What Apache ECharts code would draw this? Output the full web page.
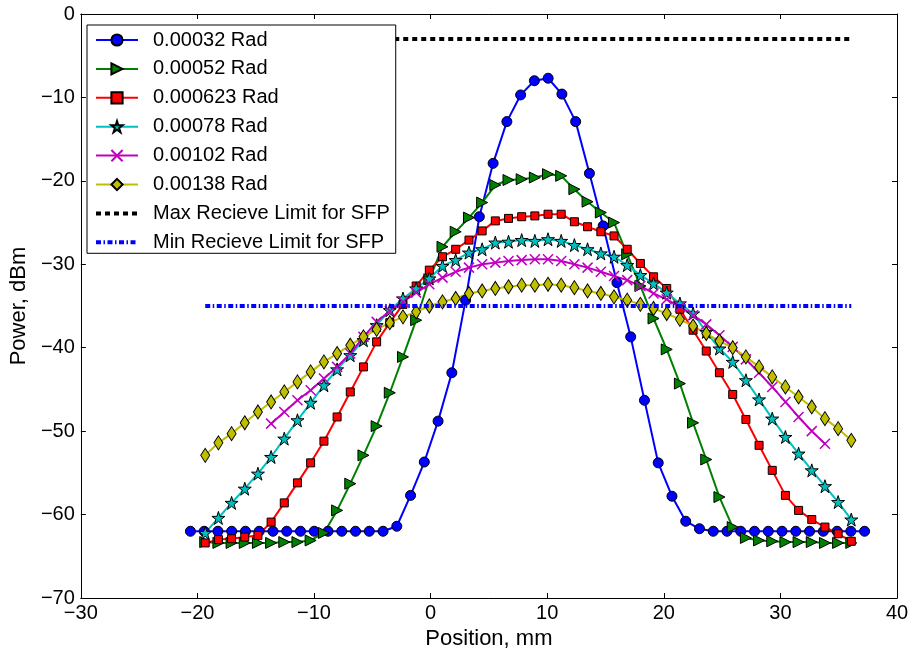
<!DOCTYPE html>
<html>
<head>
<meta charset="utf-8">
<script src="https://cdn.jsdelivr.net/npm/echarts@6/dist/echarts.min.js"></script>
<style>
html,body{margin:0;padding:0;background:#fff;}
#chart{width:914px;height:656px;}
</style>
</head>
<body>
<div id="chart"></div>
<script>
// ---- data ----
const seriesNames = ['0.00032 Rad','0.00052 Rad','0.000623 Rad','0.00078 Rad','0.00102 Rad','0.00138 Rad',
  'Max Recieve Limit for SFP','Min Recieve Limit for SFP'];

const posBlue = [-20.60,-19.42,-18.24,-17.06,-15.88,-14.70,-13.52,-12.34,-11.16,-9.98,
  -8.80,-7.62,-6.44,-5.26,-4.08,-2.90,-1.72,-0.54,0.64,1.82,
  3.00,4.18,5.36,6.54,7.72,8.90,10.08,11.26,12.44,13.62,
  14.80,15.98,17.16,18.34,19.52,20.70,21.88,23.06,24.24,25.42,
  26.60,27.78,28.96,30.14,31.32,32.50,33.68,34.86,36.04,37.22];
const powBlue = [-62.0,-62.0,-62.0,-62.0,-62.0,-62.0,-62.0,-62.0,-62.0,-62.0,
  -62.0,-62.0,-62.0,-62.0,-62.0,-61.4,-57.7,-53.7,-48.8,-43.0,
  -34.3,-24.3,-17.9,-12.9,-9.7,-8.0,-7.7,-9.6,-12.9,-19.1,
  -25.4,-32.2,-38.7,-46.3,-53.8,-57.8,-60.8,-61.7,-62.0,-62.0,
  -62.0,-62.0,-62.0,-62.0,-62.0,-62.0,-62.0,-62.0,-62.0,-62.0];

const posScan = [-19.33,-18.20,-17.07,-15.94,-14.81,-13.68,-12.55,-11.42,-10.29,-9.15,
  -8.02,-6.89,-5.76,-4.63,-3.50,-2.37,-1.24,-0.11,1.02,2.15,
  3.29,4.42,5.55,6.68,7.81,8.94,10.07,11.20,12.33,13.46,
  14.60,15.73,16.86,17.99,19.12,20.25,21.38,22.51,23.64,24.77,
  25.91,27.04,28.17,29.30,30.43,31.56,32.69,33.82,34.95,36.08];
const powGreen = [-63.3,-63.4,-63.4,-63.4,-63.4,-63.4,-63.3,-63.3,-63.1,-62.2,
  -59.5,-56.3,-52.9,-49.4,-45.4,-41.1,-36.7,-31.8,-27.9,-26.1,
  -24.4,-22.6,-20.5,-19.9,-19.8,-19.6,-19.2,-19.4,-21.0,-22.5,
  -23.8,-25.0,-28.8,-32.6,-36.5,-40.2,-44.3,-49.0,-53.4,-57.9,
  -61.5,-62.8,-63.1,-63.2,-63.3,-63.3,-63.3,-63.4,-63.4,-63.4];
const powRed = [-63.4,-63.0,-62.9,-62.7,-62.5,-60.9,-58.6,-56.2,-53.8,-51.2,
  -48.3,-45.3,-42.3,-39.3,-37.0,-34.8,-32.6,-30.7,-29.1,-28.2,
  -27.1,-26.0,-24.8,-24.5,-24.3,-24.2,-24.0,-24.0,-24.9,-25.5,
  -26.1,-26.6,-28.2,-29.9,-31.5,-32.9,-35.4,-37.9,-40.4,-43.0,
  -45.6,-48.6,-51.7,-54.7,-57.7,-59.5,-60.6,-61.5,-62.3,-63.2];
const powCyan = [-62.2,-60.4,-58.6,-56.9,-55.1,-53.1,-50.9,-48.7,-46.6,-44.5,
  -42.6,-40.9,-39.1,-37.3,-35.5,-34.1,-32.9,-31.7,-30.2,-29.5,
  -28.6,-28.2,-27.4,-27.3,-27.1,-27.2,-27.0,-27.2,-27.7,-28.2,
  -28.7,-29.1,-30.1,-31.3,-32.3,-33.4,-34.7,-35.9,-38.1,-40.1,
  -41.7,-43.9,-46.2,-48.5,-50.7,-52.7,-54.7,-56.6,-58.5,-60.6];
const posMagenta = [-13.68,-12.55,-11.42,-10.29,-9.15,
  -8.02,-6.89,-5.76,-4.63,-3.50,-2.37,-1.24,-0.11,1.02,2.15,
  3.29,4.42,5.55,6.68,7.81,8.94,10.07,11.20,12.33,13.46,
  14.60,15.73,16.86,17.99,19.12,20.25,21.38,22.51,23.64,24.77,
  25.91,27.04,28.17,29.30,30.43,31.56,32.69,33.82];
const powMagenta = [-49.1,-47.7,-46.3,-45.1,-43.7,
  -42.3,-40.7,-38.7,-36.9,-35.6,-34.5,-33.4,-32.4,-31.6,-30.9,
  -30.4,-30.0,-29.8,-29.6,-29.5,-29.4,-29.4,-29.6,-30.0,-30.4,
  -30.9,-31.4,-31.9,-32.6,-33.5,-34.2,-35.1,-36.1,-37.2,-38.5,
  -39.9,-41.4,-43.0,-44.7,-46.5,-48.3,-50.0,-51.5];
const powYellow = [-52.9,-51.4,-50.3,-49.0,-47.7,-46.5,-45.3,-44.1,-42.9,-41.7,
  -40.7,-39.7,-38.7,-37.8,-37.0,-36.3,-35.7,-35.0,-34.5,-34.1,
  -33.5,-33.2,-32.9,-32.7,-32.5,-32.5,-32.4,-32.5,-32.8,-33.2,
  -33.5,-33.9,-34.3,-34.8,-35.3,-35.9,-36.6,-37.4,-38.3,-39.2,
  -40.0,-41.1,-42.3,-43.5,-44.7,-45.9,-47.1,-48.5,-49.7,-51.1];

const limitPos = [-19.33, 36.08];
const maxLimit = [-3, -3];
const minLimit = [-35, -35];

const xTicks = {min: -30, max: 40, step: 10};
const yTicks = {min: -70, max: 0, step: 10};

// ---- chart ----
const pair = (xs, ys) => xs.map((x, i) => [x, ys[i]]);
const STAR = 'path://M50,0L61.2,34.5L97.6,34.5L68.2,55.9L79.4,90.5L50,69.1L20.6,90.5L31.8,55.9L2.4,34.5L38.8,34.5Z';
const CROSS = 'path://M0,0L10,10M10,0L0,10';
const FONT = '"Liberation Sans", Arial, sans-serif';
const fmt = v => String(v).replace('-', '\u2212');
const MAX_DASH = [5, 4];
const MIN_DASH = [5, 2.5, 1.5, 2.5];

function mkSeries(name, data, color, symbol, size, extra) {
  return Object.assign({
    name, type: 'line', data, symbol, symbolSize: size,
    showSymbol: true,
    lineStyle: {color, width: 2},
    itemStyle: {color, borderColor: '#000', borderWidth: 1},
    emphasis: {disabled: true},
    animation: false, z: 2
  }, extra || {});
}

const axisCommon = {
  type: 'value',
  axisLine: {show: true, onZero: false, lineStyle: {color: '#000', width: 1}},
  axisTick: {show: true, inside: true, length: 5, lineStyle: {color: '#000'}},
  splitLine: {show: false}
};

const option = {
  backgroundColor: '#fff',
  animation: false,
  grid: {left: 79, right: 17, top: 14, bottom: 58, containLabel: false},
  xAxis: [
    Object.assign({}, axisCommon, {
      min: xTicks.min, max: xTicks.max, interval: xTicks.step, position: 'bottom',
      name: 'Position, mm', nameLocation: 'middle', nameGap: 28,
      nameTextStyle: {fontFamily: FONT, fontSize: 22, color: '#000'},
      axisLabel: {fontFamily: FONT, fontSize: 20, color: '#000', margin: 5, formatter: fmt}
    }),
    Object.assign({}, axisCommon, {
      min: xTicks.min, max: xTicks.max, interval: xTicks.step, position: 'top',
      axisLabel: {show: false}
    })
  ],
  yAxis: [
    Object.assign({}, axisCommon, {
      min: yTicks.min, max: yTicks.max, interval: yTicks.step, position: 'left',
      name: 'Power, dBm', nameLocation: 'middle', nameGap: 45,
      nameTextStyle: {fontFamily: FONT, fontSize: 22, color: '#000'},
      axisLabel: {fontFamily: FONT, fontSize: 20, color: '#000', margin: 6, formatter: fmt}
    }),
    Object.assign({}, axisCommon, {
      min: yTicks.min, max: yTicks.max, interval: yTicks.step, position: 'right',
      axisLabel: {show: false}
    })
  ],
  legend: {
    orient: 'vertical', left: 87, top: 25,
    padding: [5, 6, 1, 7],
    itemWidth: 42, itemHeight: 14, itemGap: 8.9,
    backgroundColor: '#fff', borderColor: '#000', borderWidth: 1, borderRadius: 0,
    textStyle: {fontFamily: FONT, fontSize: 20, color: '#000', lineHeight: 20, padding: [0, 0, 0, 10]},
    data: seriesNames.slice(0, 6).concat([
      {name: seriesNames[6], itemStyle: {opacity: 0}, lineStyle: {width: 4, type: MAX_DASH, color: '#000'}},
      {name: seriesNames[7], itemStyle: {opacity: 0}, lineStyle: {width: 4, type: MIN_DASH, color: '#0000ff'}}
    ]),
    z: 10
  },
  series: [
    mkSeries(seriesNames[0], pair(posBlue, powBlue), '#0000ff', 'circle', 10),
    mkSeries(seriesNames[1], pair(posScan, powGreen), '#008000', 'triangle', 11, {symbolRotate: -90}),
    mkSeries(seriesNames[2], pair(posScan, powRed), '#ff0000', 'rect', 8),
    mkSeries(seriesNames[3], pair(posScan, powCyan), '#00bfbf', STAR, 13),
    mkSeries(seriesNames[4], pair(posMagenta, powMagenta), '#bf00bf', CROSS, 10,
      {itemStyle: {color: '#bf00bf', borderColor: '#bf00bf', borderWidth: 1.5}}),
    mkSeries(seriesNames[5], pair(posScan, powYellow), '#bfbf00', 'diamond', [9, 14]),
    {
      name: seriesNames[6], type: 'line', data: pair(limitPos, maxLimit), symbol: 'circle', showSymbol: false,
      lineStyle: {color: '#000', width: 4, type: MAX_DASH}, itemStyle: {color: '#000', opacity: 0},
      emphasis: {disabled: true}, animation: false
    },
    {
      name: seriesNames[7], type: 'line', data: pair(limitPos, minLimit), symbol: 'circle', showSymbol: false,
      lineStyle: {color: '#0000ff', width: 4, type: MIN_DASH}, itemStyle: {color: '#0000ff', opacity: 0},
      emphasis: {disabled: true}, animation: false
    }
  ]
};

const chart = echarts.init(document.getElementById('chart'), null, {renderer: 'canvas'});
chart.setOption(option);
</script>
</body>
</html>
